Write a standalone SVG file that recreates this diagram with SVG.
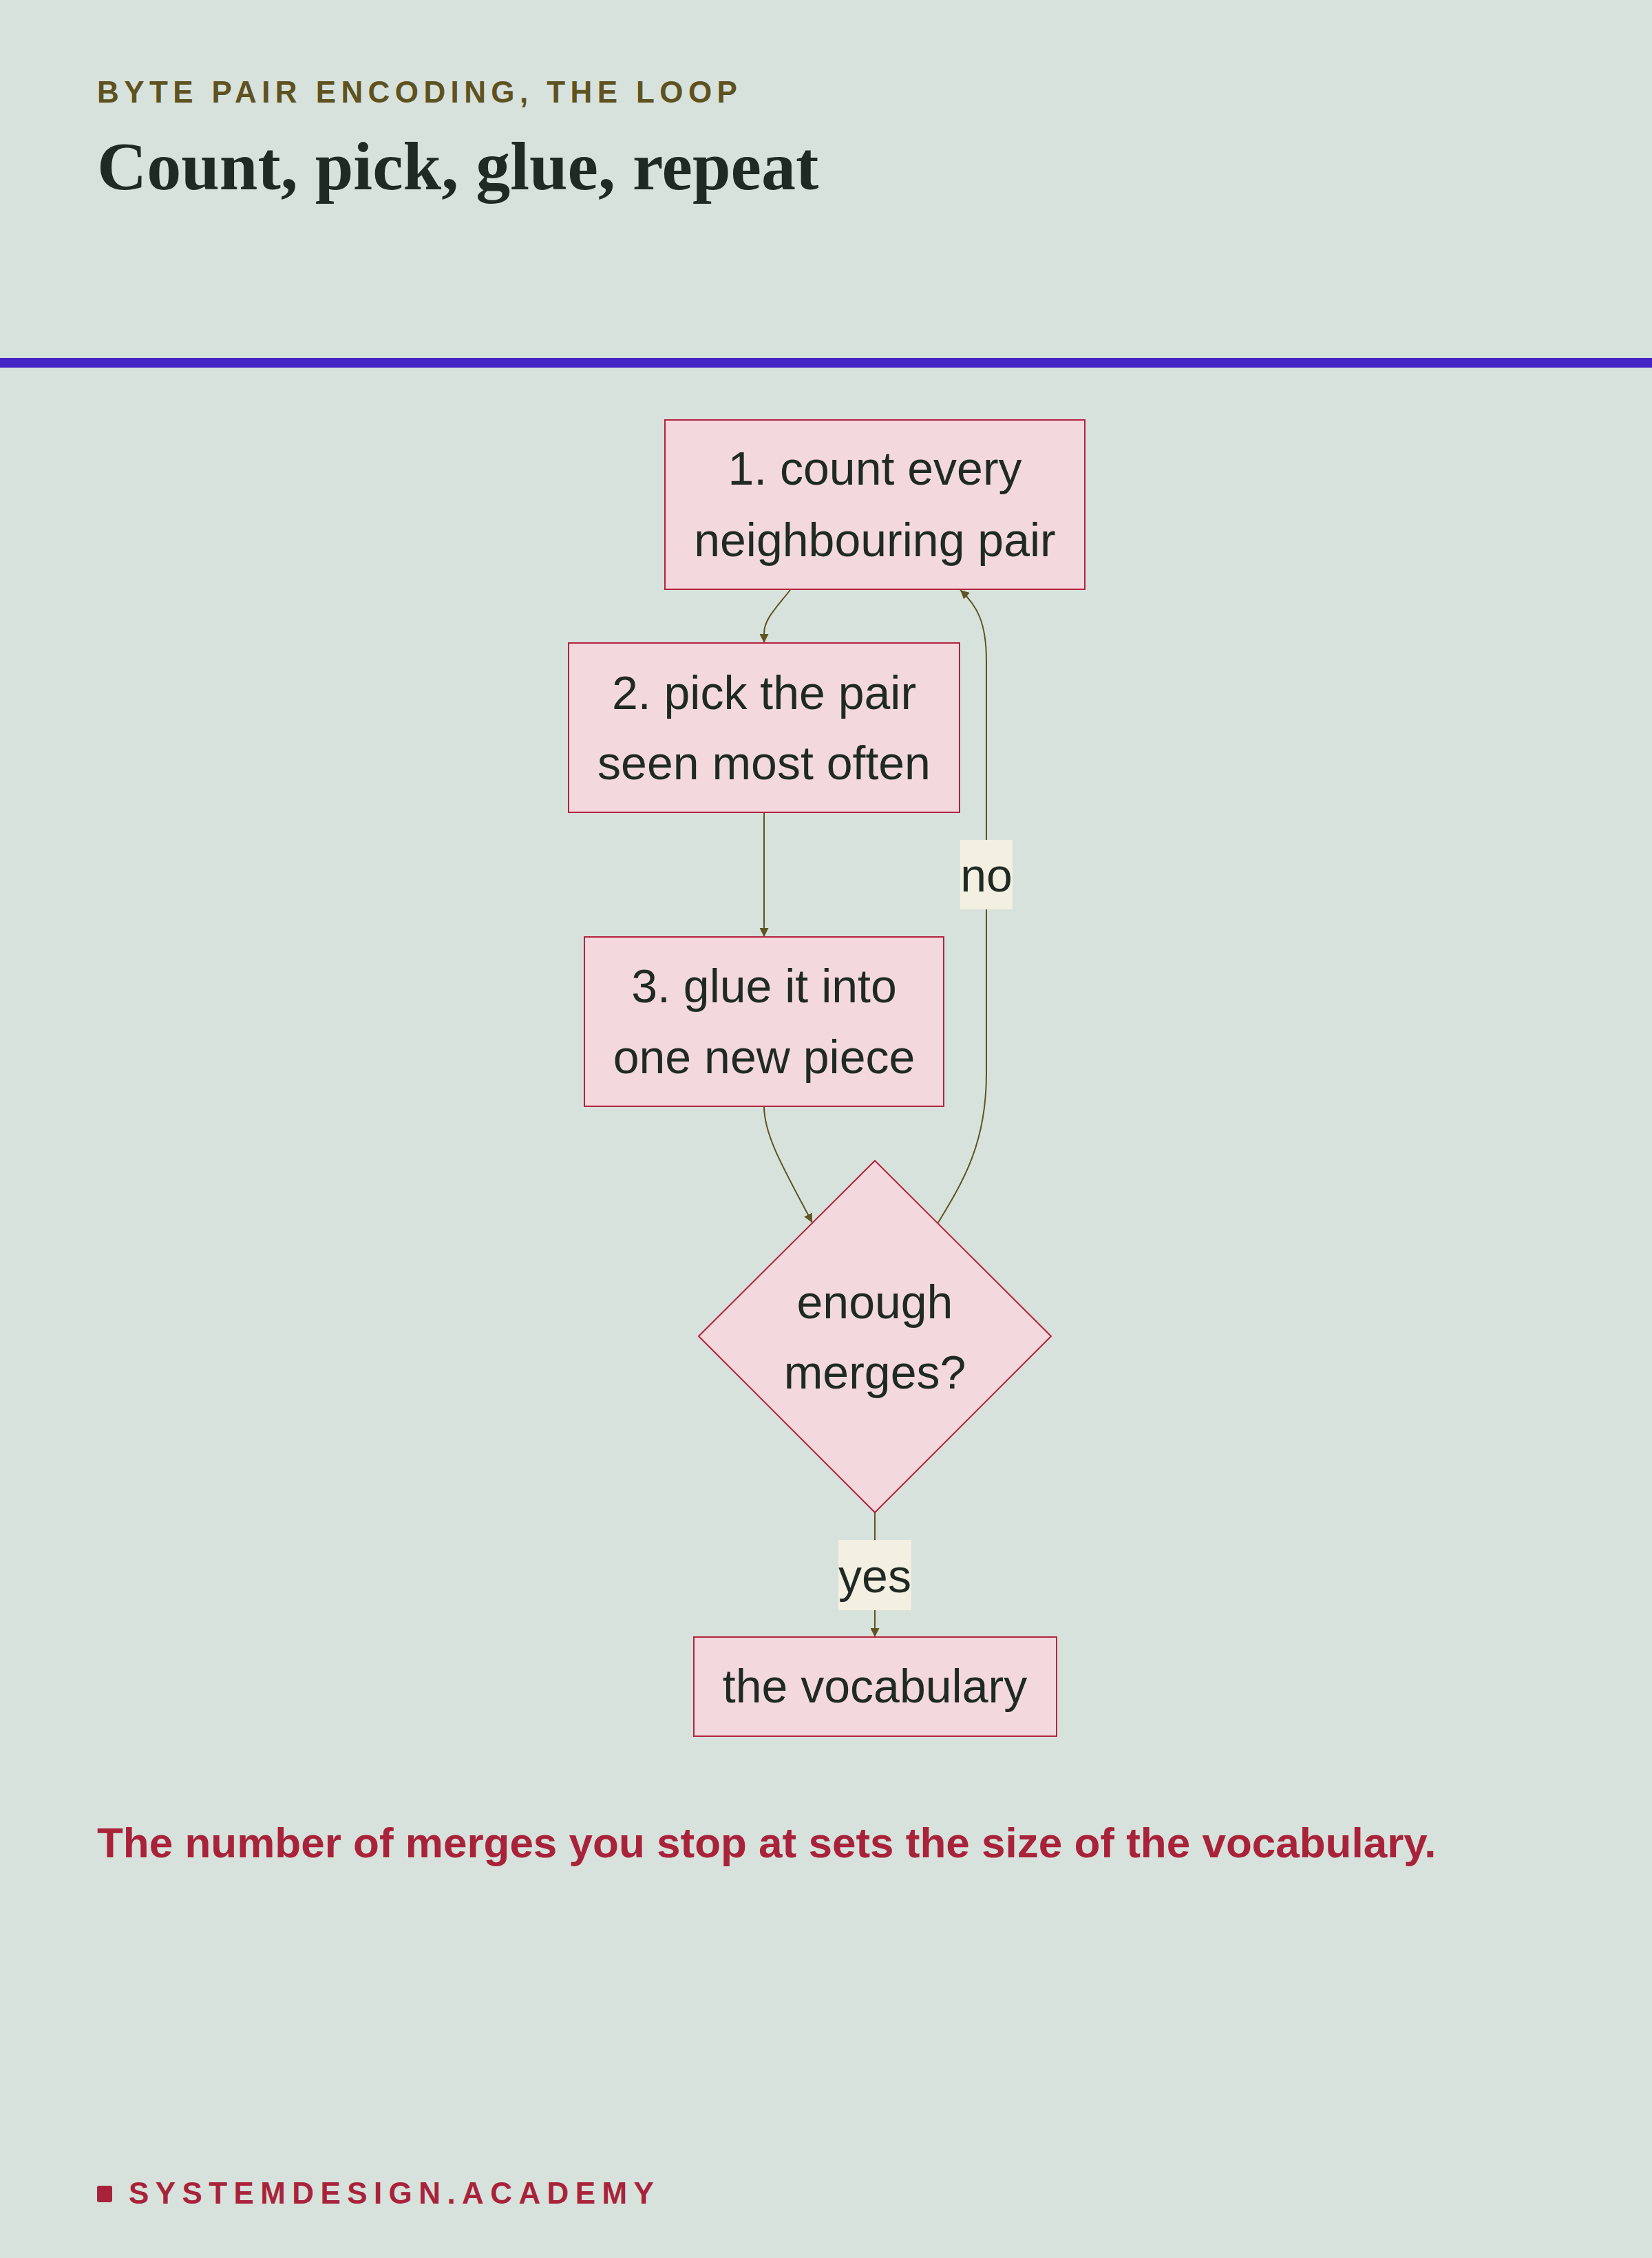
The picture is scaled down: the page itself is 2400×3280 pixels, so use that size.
<svg xmlns="http://www.w3.org/2000/svg" width="2400" height="3280" viewBox="0 0 2400 3280">
  <defs>
    <style>
      .bg { fill: #d8e2dc; }
      .node { fill: #f3d9de; stroke: #b3243f; stroke-width: 2; }
      .ntext { font-family: "Liberation Sans", Arial, sans-serif; font-size: 68px; fill: #1f2a24; text-anchor: middle; }
      .edge { fill: none; stroke: #5e5522; stroke-width: 2; }
      .lbl { fill: #f3f0e1; }
      .eyebrow { font-family: "Liberation Sans", Arial, sans-serif; font-weight: bold; font-size: 44px; letter-spacing: 7.4px; fill: #5e5220; }
      .title { font-family: "Liberation Serif", "Times New Roman", serif; font-weight: bold; font-size: 100px; fill: #1f2a24; }
      .caption { font-family: "Liberation Sans", Arial, sans-serif; font-weight: bold; font-size: 62px; fill: #a8233a; }
      .brand { font-family: "Liberation Sans", Arial, sans-serif; font-weight: bold; font-size: 44px; letter-spacing: 9.4px; fill: #a8233a; }
    </style>
    <marker id="arrow" markerUnits="userSpaceOnUse" markerWidth="14" markerHeight="13" refX="13" refY="6.5" orient="auto">
      <path d="M0,0 L13,6.5 L0,13 z" fill="#5e5522"/>
    </marker>
  </defs>

  <rect class="bg" x="0" y="0" width="2400" height="3280"/>

  <g id="header">
    <text class="eyebrow" x="141" y="149">BYTE PAIR ENCODING, THE LOOP</text>
    <text class="title" x="141" y="275">Count, pick, glue, repeat</text>
    <rect x="0" y="520" width="2400" height="14" fill="#4424c4"/>
  </g>

  <g id="connectors">
    <path class="edge" d="M1148,857 C1126,885 1110,900 1110,920 L1110,934" marker-end="url(#arrow)"/>
    <path class="edge" d="M1110,1180 L1110,1361" marker-end="url(#arrow)"/>
    <path class="edge" d="M1110,1607 C1110,1650 1140,1700 1180,1776" marker-end="url(#arrow)"/>
    <path class="edge" d="M1363,1776 C1400,1715 1433,1660 1433,1560 L1433,960 C1433,905 1420,880 1395,857" marker-end="url(#arrow)"/>
    <path class="edge" d="M1271,2197 L1271,2378" marker-end="url(#arrow)"/>
    <g id="label-no">
      <rect class="lbl" x="1395" y="1220" width="76" height="101"/>
      <text class="ntext" x="1433" y="1295">no</text>
    </g>
    <g id="label-yes">
      <rect class="lbl" x="1218" y="2237" width="106" height="102"/>
      <text class="ntext" x="1271" y="2313">yes</text>
    </g>
  </g>

  <g id="node-count">
    <rect class="node" x="966" y="610" width="610" height="246"/>
    <text class="ntext" x="1271" y="704">1. count every</text>
    <text class="ntext" x="1271" y="808">neighbouring pair</text>
  </g>

  <g id="node-pick">
    <rect class="node" x="826" y="934" width="568" height="246"/>
    <text class="ntext" x="1110" y="1030">2. pick the pair</text>
    <text class="ntext" x="1110" y="1132">seen most often</text>
  </g>

  <g id="node-glue">
    <rect class="node" x="849" y="1361" width="522" height="246"/>
    <text class="ntext" x="1110" y="1456">3. glue it into</text>
    <text class="ntext" x="1110" y="1559">one new piece</text>
  </g>

  <g id="node-decision">
    <polygon class="node" points="1271,1686 1527,1941 1271,2197 1015,1941"/>
    <text class="ntext" x="1271" y="1915">enough</text>
    <text class="ntext" x="1271" y="2017">merges?</text>
  </g>

  <g id="node-vocab">
    <rect class="node" x="1008" y="2378" width="527" height="144"/>
    <text class="ntext" x="1271" y="2473">the vocabulary</text>
  </g>

  <g id="footer">
    <text class="caption" x="141" y="2698">The number of merges you stop at sets the size of the vocabulary.</text>
    <rect x="141" y="3175" width="22" height="24" rx="3" fill="#a8233a"/>
    <text class="brand" x="187" y="3201">SYSTEMDESIGN.ACADEMY</text>
  </g>
</svg>
